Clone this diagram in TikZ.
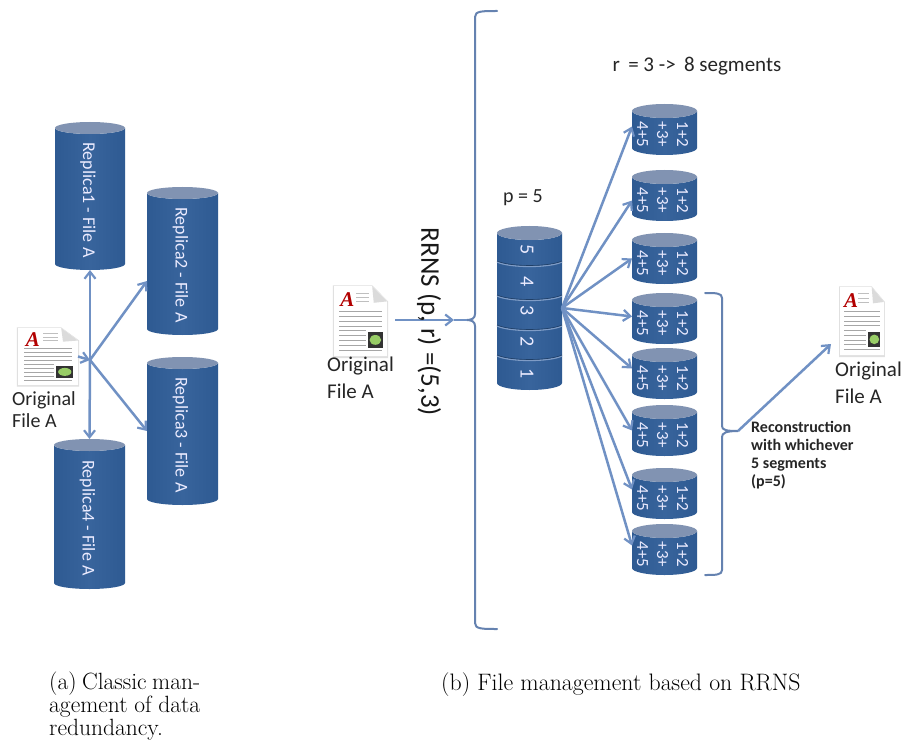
\documentclass[tikz,border=0pt]{standalone}
\usepackage{fontspec}
\usetikzlibrary{arrows.meta,calc}
\newfontfamily\calfont{Carlito}
\newfontfamily\docfont{Liberation Serif}
\definecolor{cylA}{HTML}{2E5A92}
\definecolor{cylB}{HTML}{38649C}
\definecolor{cylTop}{HTML}{8193B2}
\definecolor{cylLine}{HTML}{7F9CC6}
\definecolor{arrowC}{HTML}{7091C4}
\tikzset{
  conn/.style={draw=arrowC,line width=2.5pt,-{Straight Barb[length=7pt,width=11pt,line width=2.2pt]}},
  plainconn/.style={draw=arrowC,line width=2.5pt},
  brace/.style={draw=arrowC!90!black,line width=2pt,line cap=round},
  cyltext/.style={text=white!92!blue,rotate=-90,align=center,font=\calfont},
  box/.style={inner sep=0pt,outer sep=0pt,draw=none},
  lab/.style={text=black!85,font=\calfont,align=left,inner sep=0pt},
  caption/.style={text=black,align=left,inner sep=0pt,anchor=west}
}
% name, x1, x2, top, bottom, ry
\newcommand{\cylshape}[6]{%
  \pgfmathsetmacro\cxx{(#2+#3)/2}%
  \pgfmathsetmacro\rxx{(#3-#2)/2}%
  \pgfmathsetmacro\yta{#4+#6}%
  \pgfmathsetmacro\ytb{#5-#6}%
  \pgfmathsetmacro\cyy{(#4+#5)/2}%
  \pgfmathsetmacro\www{#3-#2}%
  \pgfmathsetmacro\hhh{#5-#4}%
  \shade[left color=cylA,right color=cylA,middle color=cylB]
    (#2,\yta) -- (#2,\ytb) arc[start angle=180,end angle=0,x radius=\rxx,y radius=#6]
    -- (#3,\yta) arc[start angle=0,end angle=180,x radius=\rxx,y radius=#6] -- cycle;
  \fill[cylTop] (\cxx,\yta) ellipse[x radius=\rxx,y radius=#6];
  \node[box,minimum width=\www pt,minimum height=\hhh pt] (#1) at (\cxx,\cyy) {};
}
% replica cylinder
\newcommand{\replica}[5]{%
  \cylshape{#1}{#2}{#3}{#4}{#5}{6}%
}
% small segment cylinder: name, top
\newcommand{\segcyl}[2]{%
  \pgfmathsetmacro\bott{#2+51}%
  \cylshape{#1}{632}{697}{#2}{\bott}{7}%
  \node[cyltext,font=\calfont\fontsize{17}{20}\selectfont] (#1t) at ([xshift=-2pt,yshift=-5pt]#1.center) {1+2\\+3+\\4+5};
}
% document icon: name, x, y, w, h
\newcommand{\docicon}[5]{%
  \node[box,minimum width=#4 pt,minimum height=#5 pt] (#1) at ({#2+#4/2},{#3+#5/2}) {};
  \begin{scope}[shift={(#2,#3)},x=#4pt,y=-#5pt]
    \fill[black!12] (-.02,-.01) -- (.72,-.01) -- (1.02,.22) -- (1.02,1.03) -- (-.02,1.03) -- cycle;
    \fill[white] (0,0) -- (.72,0) -- (1,.22) -- (1,1) -- (0,1) -- cycle;
    \fill[black!14] (.72,0) -- (1,.22) -- (.75,.24) -- cycle;
    \foreach \yy in {.36,.43,.5,.57}{\draw[black!35,line width=.7pt] (.1,\yy) -- (.9,\yy);}
    \foreach \yy in {.64,.71,.78,.85}{\draw[black!35,line width=.7pt] (.1,\yy) -- (.6,\yy);}
    \draw[black!35,line width=.7pt] (.1,.92) -- (.9,.92);
    \foreach \yy in {.1,.16,.22}{\draw[black!25,line width=.7pt] (.42,\yy) -- (.66,\yy);}
    \fill[black!80] (.64,.66) rectangle (.92,.88);
    \fill[green!35!olive!60!white] (.78,.77) ellipse[x radius=.11,y radius=.07];
    \node[inner sep=0pt,text=red!70!black,font=\docfont\bfseries\itshape\fontsize{21}{21}\selectfont] (#1a) at (.25,.2) {A};
  \end{scope}
}
\begin{document}
\begin{tikzpicture}[x=1pt,y=-1pt]
\useasboundingbox (0,0) rectangle (901,751);
\fill[white] (0,0) rectangle (901,751);

% ---------- left part ----------
\replica{r1}{55}{125}{122}{270}
\replica{r2}{147}{218}{187}{335}
\replica{r3}{147}{218}{357}{505}
\replica{r4}{54}{125}{439}{589}
\foreach \n/\t in {r1/Replica1 - File A,r2/Replica2 - File A,r3/Replica3 -  File A,r4/Replica4 - File A}{
  \node[cyltext,font=\calfont\fontsize{18}{20}\selectfont] (\n t) at ([xshift=-2pt,yshift=-4pt]\n.center) {\t};
}
\docicon{docA}{18}{328}{60}{57}
\node[lab,font=\calfont\fontsize{20}{22}\selectfont,anchor=north west] (docAl) at (12,391) {Original\\File A};
\coordinate (hubL) at (90,360);
\draw[conn] (docA.east) -- (hubL);
\draw[conn] (hubL) -- (r1.south);
\draw[conn] (hubL) -- (r4.north);
\draw[conn] (hubL) -- ($(r2.west)+(0,20)$);
\draw[conn] (hubL) -- (r3.west);

% ---------- right part ----------
\docicon{docB}{334}{286}{53}{70}
\node[lab,font=\calfont\fontsize{21}{27}\selectfont,anchor=north west] (docBl) at (327,357) {Original\\File A};

% big left brace
\coordinate (lbrTip) at (467,320);
\path[brace] (497,11) .. controls (482,11) and (475,11) .. (475,17) -- (475,314)
  .. controls (475,318) and (472,320) .. (lbrTip)
  .. controls (472,320) and (475,322) .. (475,326) -- (475,623)
  .. controls (475,629) and (482,629) .. (497,629);
\coordinate (lhead) at (454,320);
\draw[conn,shorten <=8pt] (docB.east |- lhead) -- (lhead);
\draw[plainconn] (lhead) -- (lbrTip);
\node[text=black!90,rotate=-90,font=\calfont\fontsize{27}{30}\selectfont,inner sep=0pt] (rrns) at (429,322) {RRNS (p, r) =(5,3)};

% central stack
\cylshape{stack}{497}{562}{226}{390}{7}
\foreach \yy in {262,296,326,356}{
  \draw[cylLine,line width=1.3pt] (497,\yy) .. controls (510,\yy+6) and (549,\yy+6) .. (562,\yy);
  \draw[cylA!70!black,line width=.6pt] (497,\yy-1) .. controls (510,\yy+5) and (549,\yy+5) .. (562,\yy-1);
}
\foreach \t/\yy in {5/250,4/282,3/311,2/342,1/374}{
  \node[cyltext,font=\calfont\fontsize{20}{20}\selectfont] (s\t) at (527,\yy) {\t};
}
\node[lab,font=\calfont\fontsize{20}{20}\selectfont,anchor=center] (pl) at (523,198) {p = 5};
\node[lab,font=\calfont\fontsize{21}{21}\selectfont,anchor=center] (rl) at (697,66) {r\, = 3 -> \,8 segments};

% small cylinders
\segcyl{c1}{104}
\segcyl{c2}{170}
\segcyl{c3}{233}
\segcyl{c4}{293}
\segcyl{c5}{348}
\segcyl{c6}{405}
\segcyl{c7}{468}
\segcyl{c8}{524}

\coordinate (hubR) at (stack.east);
\draw[conn] (hubR) -- ($(c1.west)+(0,-3)$);
\draw[conn] (hubR) -- ($(c2.west)+(0,5)$);
\draw[conn] (hubR) -- (c3.west);
\draw[conn] (hubR) -- ($(c4.west)+(0,-2)$);
\draw[conn] (hubR) -- ($(c5.west)+(0,-5)$);
\draw[conn] (hubR) -- (c6.west);
\draw[conn] (hubR) -- ($(c7.west)+(0,-4)$);
\draw[conn] (hubR) -- ($(c8.west)+(0,-4)$);

% right brace
\coordinate (rbrTip) at (738,431);
\path[brace] (705,293) .. controls (716,293) and (722,293) .. (722,298) -- (722,426)
  .. controls (722,430) and (726,431) .. (rbrTip)
  .. controls (726,431) and (722,433) .. (722,437) -- (722,570)
  .. controls (722,575) and (716,575) .. (705,575);
\docicon{docC}{840}{287}{44}{68}
\draw[conn] (rbrTip) -- ($(docC.south west)+(-9,-11)$);
\node[lab,font=\calfont\fontsize{21}{27}\selectfont,anchor=north west] (docCl) at (835,362) {Original\\File A};
\node[lab,font=\calfont\bfseries\fontsize{16}{18}\selectfont,anchor=north west] (rec) at (751,421) {Reconstruction\\with whichever\\5 segments\\(p=5)};

% captions
\node[caption,font=\fontsize{23.5}{23}\selectfont,anchor=north west] (capa) at (49,672) {\makebox[151pt][s]{(a) Classic man-}\\\makebox[151pt][s]{agement of data}\\redundancy.};
\node[caption,font=\fontsize{23.8}{23}\selectfont,anchor=north west] (capb) at (441,672) {(b) File management based on RRNS};
\end{tikzpicture}
\end{document}
